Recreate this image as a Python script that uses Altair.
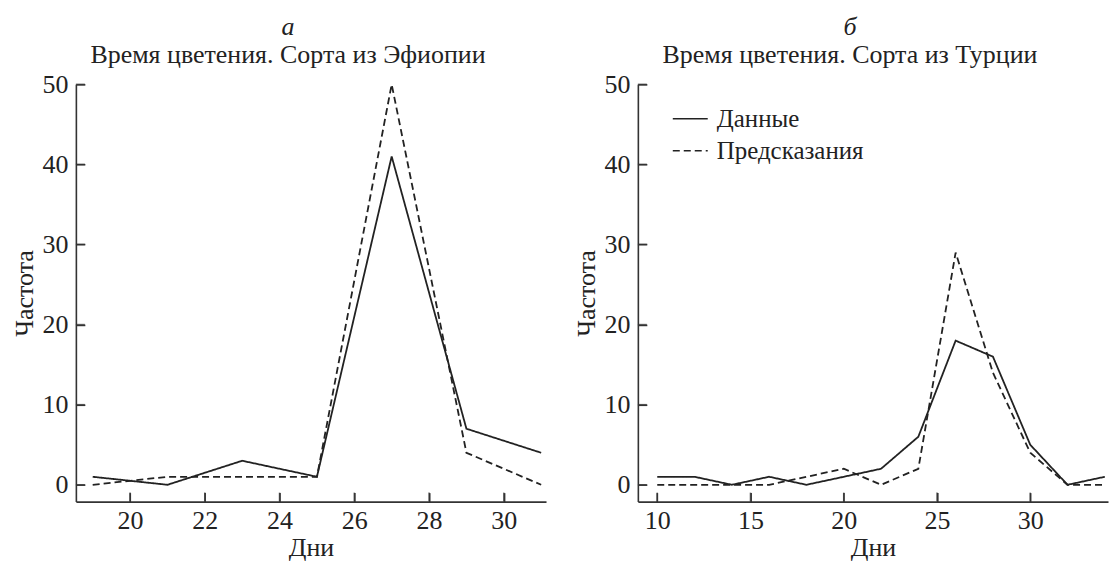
import altair as alt
import pandas as pd

# ---- data ----
days_a = [19, 21, 23, 25, 27, 29, 31]
data_a = [1, 0, 3, 1, 41, 7, 4]
pred_a = [0, 1, 1, 1, 50, 4, 0]

days_b = [10, 12, 14, 16, 18, 20, 22, 24, 26, 28, 30, 32, 34]
data_b = [1, 1, 0, 1, 0, 1, 2, 6, 18, 16, 5, 0, 1]
pred_b = [0, 0, 0, 0, 1, 2, 0, 2, 29, 14, 4, 0, 0]

series_names = ["Данные", "Предсказания"]
y_ticks = [0, 10, 20, 30, 40, 50]
x_ticks_a = [20, 22, 24, 26, 28, 30]
x_ticks_b = [10, 15, 20, 25, 30]

title_a = ["а", "Время цветения. Сорта из Эфиопии"]
title_b = ["б", "Время цветения. Сорта из Турции"]

FONT = "Liberation Serif"
INK = "#222222"
W1, W2, H = 471, 471, 418
FS = 26
TL = 9  # inward tick length


def long_df(days, d, p):
    rows = []
    for x, v in zip(days, d):
        rows.append({"day": x, "freq": v, "s": series_names[0]})
    for x, v in zip(days, p):
        rows.append({"day": x, "freq": v, "s": series_names[1]})
    return pd.DataFrame(rows)


def panel(days, d, p, xdom, xticks, title, width, show_legend):
    df = long_df(days, d, p)
    xs = alt.Scale(domain=xdom, nice=False, zero=False)
    ys = alt.Scale(domain=[-2.1, 50], nice=False, zero=False)
    xax = alt.Axis(values=xticks, format="d", ticks=False)
    yax = alt.Axis(values=y_ticks, format="d", ticks=False)
    # inner tick axes: placed on the opposite side, shifted back onto the main axis line
    xin = alt.Axis(values=xticks, orient="top", offset=-H, labels=False, domain=False,
                   ticks=True, tickSize=TL, tickWidth=1.6, tickColor="#333333",
                   title=None, grid=False)
    yin = alt.Axis(values=y_ticks, orient="right", offset=-width, labels=False, domain=False,
                   ticks=True, tickSize=TL, tickWidth=1.6, tickColor="#333333",
                   title=None, grid=False)
    if show_legend:
        leg = alt.Legend(title=None, orient="none", legendX=34, legendY=16,
                         symbolType="stroke", symbolSize=1225, symbolStrokeWidth=1.5,
                         labelFont=FONT, labelFontSize=25, labelColor=INK,
                         rowPadding=0, labelOffset=8, symbolStrokeColor=INK)
    else:
        leg = None
    lines = alt.Chart(df).mark_line(color=INK, strokeWidth=1.8, clip=False).encode(
        x=alt.X("day:Q", scale=xs, title="Дни", axis=xax),
        y=alt.Y("freq:Q", scale=ys, title="Частота", axis=yax),
        strokeDash=alt.StrokeDash("s:N",
                                  scale=alt.Scale(domain=series_names, range=[[1, 0], [7, 4]]),
                                  legend=leg),
        detail="s:N",
    )
    yt = alt.Chart(pd.DataFrame({"freq": y_ticks})).mark_tick(
        color="#333333", thickness=1.6, size=TL, orient="horizontal").encode(
        y=alt.Y("freq:Q", scale=ys, axis=yin),
        x=alt.value(TL / 2),
    )
    xt = alt.Chart(pd.DataFrame({"day": xticks})).mark_tick(
        color="#333333", thickness=1.6, size=TL, orient="vertical").encode(
        x=alt.X("day:Q", scale=xs, axis=xin),
        y=alt.value(H - TL / 2),
    )
    return alt.layer(lines, yt, xt).resolve_axis(x="independent", y="independent").properties(
        width=width, height=H,
        title=alt.TitleParams(text=title[0], subtitle=title[1], font=FONT, fontSize=FS,
                              fontStyle="italic", fontWeight="normal", color=INK,
                              subtitleFont=FONT, subtitleFontSize=FS, subtitleFontStyle="normal",
                              subtitleColor=INK, subtitlePadding=2, anchor="middle",
                              dx=-23, offset=3),
    )


left = panel(days_a, data_a, pred_a, [18.55, 31.13], x_ticks_a, title_a, W1, False)
right = panel(days_b, data_b, pred_b, [8.96, 34.17], x_ticks_b, title_b, W2, True)

chart = alt.hconcat(left, right, spacing=28).resolve_scale(
    strokeDash="independent"
).resolve_legend(strokeDash="independent").properties(
    padding={"left": 4, "top": 6, "right": 0, "bottom": 0}
).configure_view(
    stroke=None
).configure_axis(
    domainColor="#333333", domainWidth=1.6, tickSize=0, grid=False,
    labelFont=FONT, labelFontSize=FS, labelColor=INK, labelPadding=6,
    titleFont=FONT, titleFontSize=FS, titleFontWeight="normal", titleColor=INK,
).configure_axisLeft(titlePadding=4, labelPadding=8).configure_axisBottom(titlePadding=1)

chart.save("out.html", embed_options={"renderer": "svg", "actions": False})
